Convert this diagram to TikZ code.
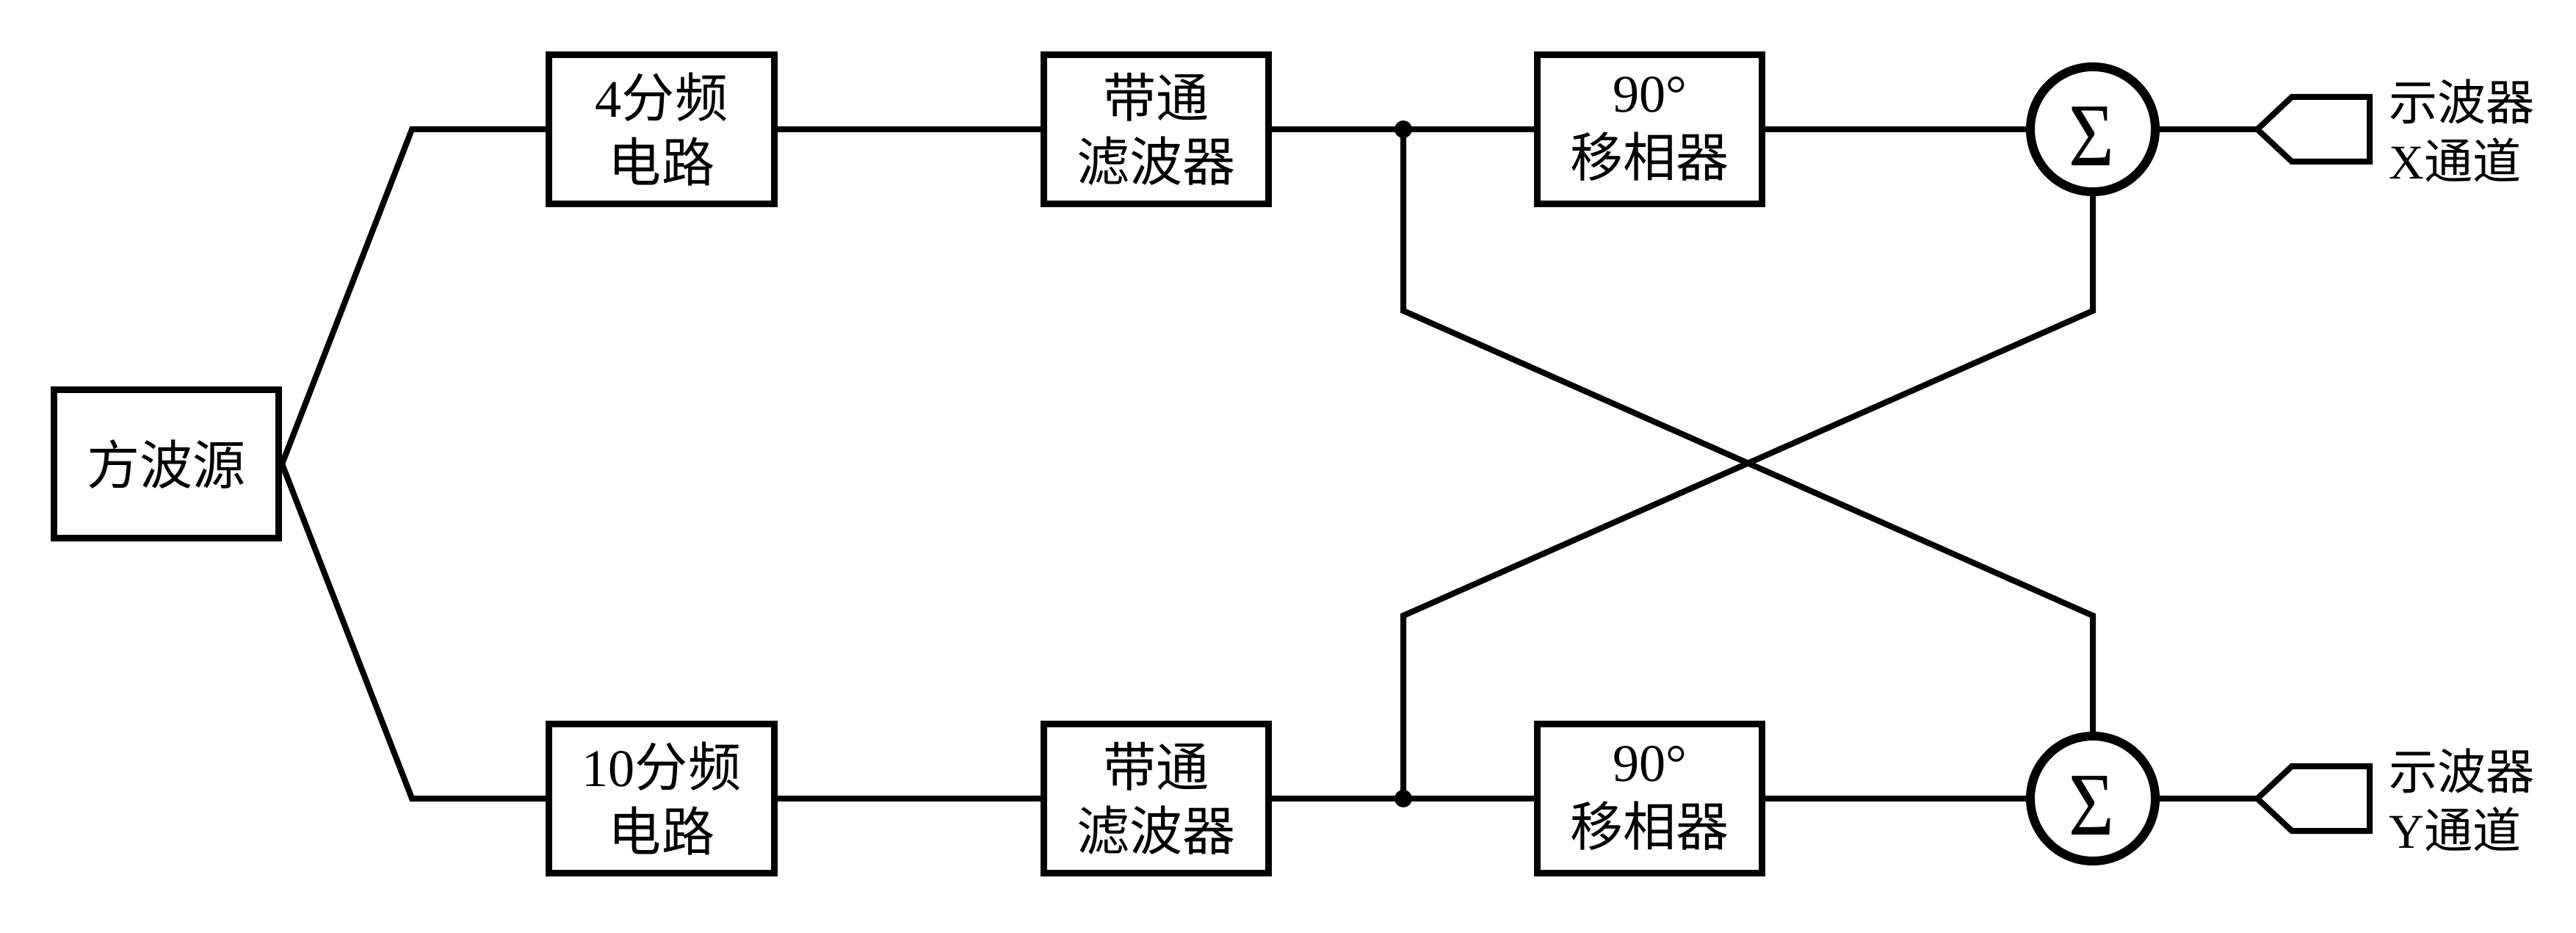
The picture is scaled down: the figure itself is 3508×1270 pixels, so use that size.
\documentclass[tikz,border=0pt]{standalone}
\usepackage{graphicx}
\usepackage{fontspec}
\setmainfont{Liberation Serif}
\newfontfamily\cjk{Noto Sans CJK SC}
\begin{document}
\begin{tikzpicture}[x=0.01cm,y=-0.01cm,
  blockbox/.style={draw,rectangle,line width=0.09cm,minimum width=3.06cm,minimum height=2.02cm,inner sep=0pt,align=center,font=\fontsize{20.5pt}{25pt}\selectfont},
  sumnode/.style={draw,circle,line width=0.12cm,minimum size=1.70cm,inner sep=0pt},
  dotnode/.style={circle,fill,minimum size=0.24cm,inner sep=0pt},
  wire/.style={line width=0.08cm},
  outlabel/.style={anchor=west,inner sep=0pt,align=left,font=\fontsize{18.8pt}{22.5pt}\selectfont},
  sigmatext/.style={inner sep=0pt,font=\fontsize{34.7pt}{36pt}\selectfont}
]
\useasboundingbox (0,0) rectangle (3508,1270);

% blocks
\node[blockbox] (src) at (226.5,631.5) {{\cjk 方波源}};
\node[blockbox] (div4) at (901,176) {4{\cjk 分频}\\{\cjk 电路}};
\node[blockbox] (div10) at (901,1087) {10{\cjk 分频}\\{\cjk 电路}};
\node[blockbox] (bp1) at (1574.5,176) {{\cjk 带通}\\{\cjk 滤波器}};
\node[blockbox] (bp2) at (1574.5,1087) {{\cjk 带通}\\{\cjk 滤波器}};
\node[blockbox] (ps1) at (2246.5,176) {90°\\{\cjk 移相器}};
\node[blockbox] (ps2) at (2246.5,1087) {90°\\{\cjk 移相器}};

% summing junctions
\node[sumnode] (s1) at (2850,176) {};
\node[sumnode] (s2) at (2850,1087) {};
\node[sigmatext] (sg1) at (2848,186) {\scalebox{0.87}[1]{Σ}};
\node[sigmatext] (sg2) at (2848,1097) {\scalebox{0.87}[1]{Σ}};

% junction dots
\node[dotnode] (j1) at (1911,176) {};
\node[dotnode] (j2) at (1911,1087) {};

% helper coordinates
\coordinate (c1) at (561,176);
\coordinate (c2) at (561,1087);
\coordinate (k1) at (1911,423);
\coordinate (k2) at (2850,423);
\coordinate (k3) at (1911,838);
\coordinate (k4) at (2850,838);
\coordinate (t1) at (3074,176);
\coordinate (t2) at (3074,1087);

% wires
\draw[wire] (src.east) -- (c1) -- (div4.west);
\draw[wire] (src.east) -- (c2) -- (div10.west);
\draw[wire] (div4.east) -- (bp1.west);
\draw[wire] (div10.east) -- (bp2.west);
\draw[wire] (bp1.east) -- (j1.center) -- (ps1.west);
\draw[wire] (bp2.east) -- (j2.center) -- (ps2.west);
\draw[wire] (ps1.east) -- (s1.west);
\draw[wire] (ps2.east) -- (s2.west);
\draw[wire] (j1.center) -- (k1) -- (k4) -- (s2.north);
\draw[wire] (j2.center) -- (k3) -- (k2) -- (s1.south);
\draw[wire] (s1.east) -- (t1);
\draw[wire] (s2.east) -- (t2);

% output connectors
\draw[wire] (t1) -- ++(47,-44) -- ++(106,0) -- ++(0,88) -- ++(-106,0) -- cycle;
\draw[wire] (t2) -- ++(47,-44) -- ++(106,0) -- ++(0,88) -- ++(-106,0) -- cycle;

% labels
\node[outlabel] (lx) at (3253,178) {{\cjk 示波器}\\X{\cjk 通道}};
\node[outlabel] (ly) at (3253,1089) {{\cjk 示波器}\\Y{\cjk 通道}};
\end{tikzpicture}
\end{document}
